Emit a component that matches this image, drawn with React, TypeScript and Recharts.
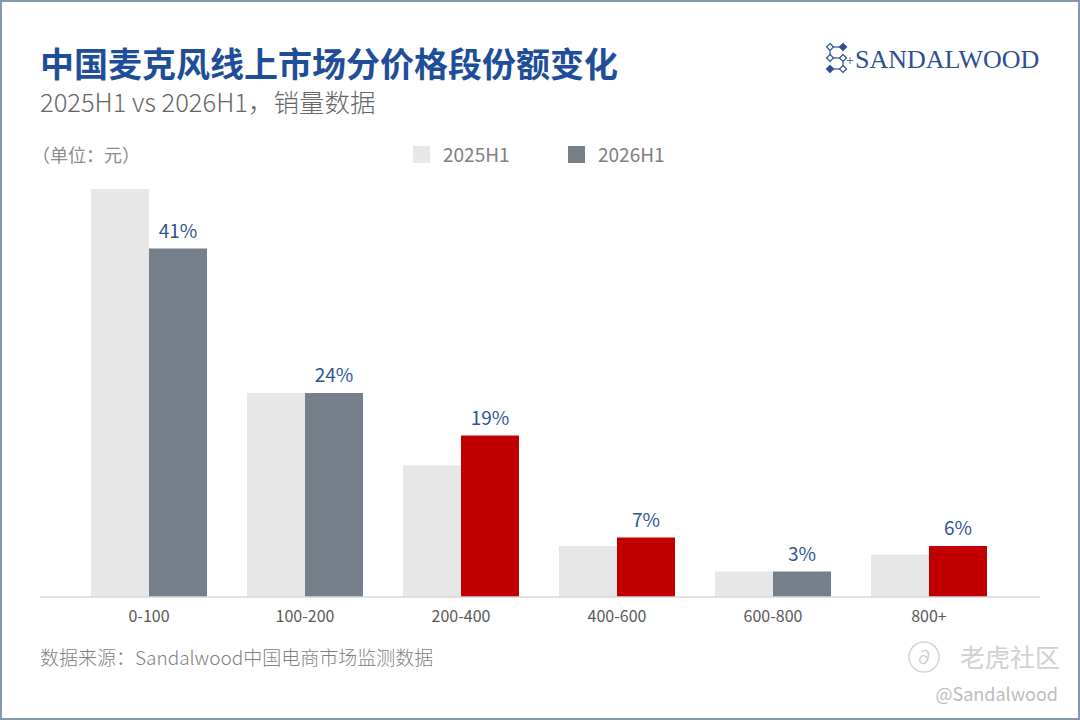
import React from "react";
import {
  BarChart,
  Bar,
  XAxis,
  YAxis,
  Cell,
  LabelList,
  Legend,
} from "recharts";

// price bands (元)
const priceBands = ["0-100", "100-200", "200-400", "400-600", "600-800", "800+"];
// share of unit sales, %
const share2025 = [48, 24, 15.5, 6, 3, 5];
const share2026 = [41, 24, 19, 7, 3, 6];
// bands whose share grew get the red highlight
const grew = [false, false, true, true, false, true];

const SERIES = ["2025H1", "2026H1"];

const FONT = '"Noto Sans CJK SC", "Noto Sans", sans-serif';
const LIGHT = "#e7e7e7";
const GREY = "#76808b";
const RED = "#c00000";
const BLUE = "#2f5597";

const data = priceBands.map((band, i) => ({
  band,
  "2025H1": share2025[i],
  "2026H1": share2026[i],
}));

function BandTick({ x, y, payload }: any) {
  return (
    <text
      x={x}
      y={y + 25}
      textAnchor="middle"
      fill="#595959"
      fontSize={16}
      fontFamily={FONT}
    >
      {payload.value}
    </text>
  );
}

function LegendBox() {
  return (
    <svg width={300} height={32}>
      <rect x={8} y={6} width={17} height={17} fill={LIGHT} />
      <text x={38} y={22} fontSize={19} fill="#7f7f7f" fontFamily={FONT}>
        {SERIES[0]}
      </text>
      <rect x={163} y={6} width={17} height={17} fill={GREY} />
      <text x={193} y={22} fontSize={19} fill="#7f7f7f" fontFamily={FONT}>
        {SERIES[1]}
      </text>
    </svg>
  );
}

function Logo() {
  const nodes = [
    [830, 47, false],
    [843, 47, true],
    [830, 58, false],
    [843, 58, false],
    [830, 69, true],
    [843, 69, false],
  ] as const;
  return (
    <g>
      <g stroke="#2e4f8f" strokeWidth={1.2} fill="none">
        <line x1={830} y1={47} x2={843} y2={47} />
        <line x1={830} y1={58} x2={843} y2={58} />
        <line x1={830} y1={69} x2={843} y2={69} />
        <line x1={830} y1={47} x2={830} y2={58} />
        <line x1={843} y1={58} x2={843} y2={69} />
      </g>
      {nodes.map(([cx, cy, filled], i) => (
        <path
          key={i}
          d={`M${cx} ${cy - 3.5} L${cx + 3.5} ${cy} L${cx} ${cy + 3.5} L${cx - 3.5} ${cy} Z`}
          fill={filled ? "#2e4f8f" : "#fff"}
          stroke="#2e4f8f"
          strokeWidth={1.2}
        />
      ))}
      <text x={846} y={65} fontSize={14} fill="#2e4f8f" fontFamily="Liberation Serif">
        +
      </text>
      <text
        x={855}
        y={68}
        fontSize={26}
        fill="#2e4f8f"
        fontFamily='"Liberation Serif", serif'
      >
        SANDALWOOD
      </text>
    </g>
  );
}

export default function App() {
  return (
    <div
      style={{
        position: "absolute",
        left: 0,
        top: 0,
        width: 1080,
        height: 720,
        background: "#fff",
        fontFamily: FONT,
      }}
    >
      <BarChart
        width={1080}
        height={720}
        data={data}
        margin={{ top: 172, right: 40, bottom: 93, left: 40 }}
        barGap={0}
      >
        <XAxis
          dataKey="band"
          height={30}
          padding={{ left: 31, right: 33 }}
          axisLine={{ stroke: "#d9d9d9", strokeWidth: 1.5 }}
          tickLine={false}
          tickSize={0}
          tickMargin={0}
          interval={0}
          tick={<BandTick />}
        />
        <YAxis hide domain={[0, 50]} />
        <Legend
          layout="horizontal"
          verticalAlign="middle"
          content={<LegendBox />}
          wrapperStyle={{ position: "absolute", top: 140, left: 405, width: 300 }}
        />
        <Bar
          dataKey="2025H1"
          fill={LIGHT}
          barSize={58}
          isAnimationActive={false}
        />
        <Bar
          dataKey="2026H1"
          fill={GREY}
          barSize={58}
          isAnimationActive={false}
        >
          {data.map((d, i) => (
            <Cell key={d.band} fill={grew[i] ? RED : GREY} />
          ))}
          <LabelList
            dataKey="2026H1"
            position="top"
            offset={11}
            formatter={(v: any) => `${v}%`}
            fill={BLUE}
            fontSize={19}
            fontFamily={FONT}
          />
        </Bar>
      </BarChart>

      <svg
        width={1080}
        height={720}
        style={{ position: "absolute", left: 0, top: 0, pointerEvents: "none" }}
      >
        <text x={40} y={77} fontSize={34} fontWeight={700} fill="#1f4e99" fontFamily={FONT}>
          中国麦克风线上市场分价格段份额变化
        </text>
        <text x={40} y={112} fontSize={25.5} fontWeight={300} fill="#666" fontFamily={FONT}>
          2025H1 vs 2026H1，销量数据
        </text>
        <text x={32} y={162} fontSize={18} fill="#8c8c8c" fontFamily={FONT}>
          （单位：元）
        </text>
        <Logo />
        <text x={40} y={665} fontSize={19} fontWeight={300} fill="#7f7f7f" fontFamily={FONT}>
          数据来源：Sandalwood中国电商市场监测数据
        </text>
        <circle cx={924} cy={657} r={15} fill="none" stroke="#d6d6d6" strokeWidth={1.5} />
        <text x={924} y={664} fontSize={18} textAnchor="middle" fill="#d0d0d0" fontFamily={FONT}>
          ∂
        </text>
        <text x={1060} y={667} fontSize={25} textAnchor="end" fill="#d0d0d0" fontFamily={FONT}>
          老虎社区
        </text>
        <text x={1058} y={701} fontSize={18} textAnchor="end" fill="#bdbdbd" fontFamily={FONT}>
          @Sandalwood
        </text>
        <rect x={1} y={1} width={1078} height={718} fill="none" stroke="#8496b0" strokeWidth={2} />
      </svg>
    </div>
  );
}
